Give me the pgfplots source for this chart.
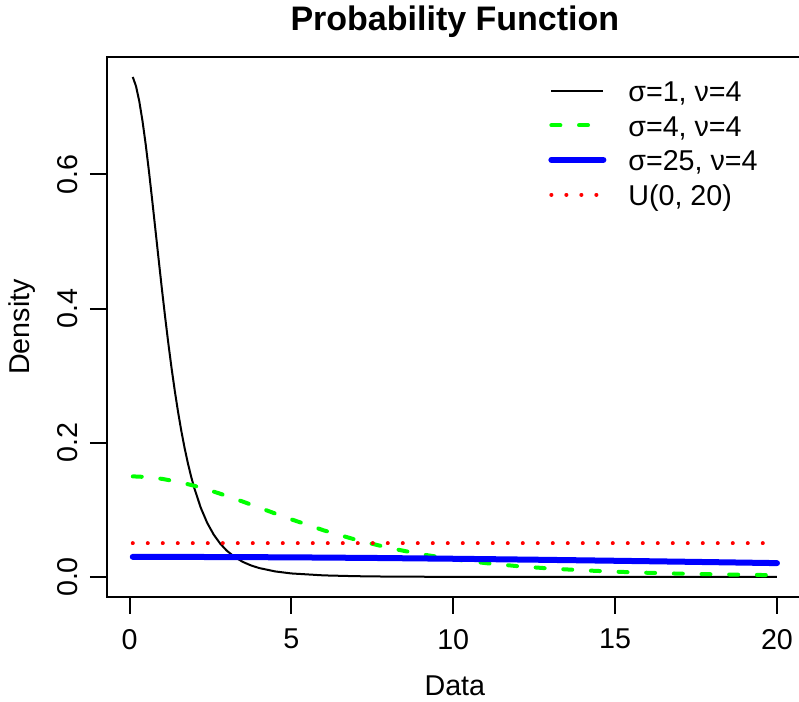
\documentclass[border=0pt]{standalone}
\usepackage{pgfplots}
\pgfplotsset{compat=1.18}
\usepackage{fontspec}
\setmainfont{Liberation Sans}
\definecolor{rgreen}{RGB}{0,255,0}
\definecolor{rblue}{RGB}{0,0,255}
\definecolor{rred}{RGB}{255,0,0}
\newcommand{\nf}{\fontsize{21.5}{25}\selectfont}
\begin{document}
\begin{tikzpicture}
\begin{axis}[
  at={(80.25pt,78.75pt)}, anchor=south west,
  scale only axis, width=521.8pt, height=405pt,
  xmin=-0.696, xmax=20.796, ymin=-0.0298, ymax=0.7751,
  axis line style={line width=1.5pt},
  every tick/.style={line width=1.5pt, black},
  tick align=outside, major tick length=12.75pt,
  xtick pos=bottom, ytick pos=left,
  xtick={0,5,10,15,20}, xticklabels={0,5,10,15,20},
  ytick={0,0.2,0.4,0.6}, yticklabels={0.0,0.2,0.4,0.6},
  xticklabel style={font=\nf, anchor=north, inner sep=0pt},
  yticklabel style={font=\nf, rotate=90, anchor=south, inner sep=0pt},
  xticklabel shift=11.25pt, yticklabel shift=9pt,
  xlabel={Data}, ylabel={Density},
  every axis x label/.style={at={(axis description cs:0.5,-0.1648)}, anchor=center, font=\nf},
  every axis y label/.style={at={(axis description cs:-0.1222,0.5)}, anchor=center, rotate=90, font=\nf},
  title={Probability Function},
  every axis title/.style={at={(axis description cs:0.5,1.0648)}, anchor=center, font=\bfseries\fontsize{25.5}{30}\selectfont},
  legend cell align=left,
  legend style={at={(rel axis cs:0.634,0.9563)}, anchor=north west, draw=none, fill=none,
    inner sep=0pt, column sep=16.5pt, row sep=6pt, font=\nf,
    nodes={inner sep=0pt, text height=15.5pt, text depth=4.5pt}},
  legend image code/.code={\draw[#1] (0pt,2.7pt) -- (39pt,2.7pt);},
]
\addplot[black, line width=1.5pt] coordinates {
(0.1,0.7453) (0.2,0.7316) (0.3,0.7094) (0.4,0.6799) (0.5,0.6446) (0.6,0.6047)
(0.7,0.5618) (0.8,0.5175) (0.9,0.4730) (1.0,0.4293) (1.1,0.3874) (1.2,0.3477)
(1.3,0.3108) (1.4,0.2768) (1.5,0.2458) (1.6,0.2177) (1.7,0.1926) (1.8,0.1702)
(1.9,0.1502) (2.0,0.1326) (2.2,0.1033) (2.4,0.0806) (2.6,0.0632) (2.8,0.0498)
(3.0,0.0394) (3.25,0.0297) (3.5,0.0225) (3.75,0.0173) (4.0,0.0134) (4.5,0.0083)
(5,0.0053) (6,0.0024) (7,0.0012) (8,0.0006) (10,0.0002) (12,0.0001) (15,0.00003) (20,0.00001)};
\addlegendentry{σ=1, ν=4}
\addplot[rgreen, line width=3pt, line cap=round, dash pattern=on 6.75pt off 14pt] coordinates {
(0.1,0.1500) (0.5,0.1491) (1,0.1463) (1.5,0.1419) (2,0.1360) (2.5,0.1289) (3,0.1209)
(3.5,0.1124) (4,0.1035) (4.5,0.0946) (5,0.0859) (6,0.0695) (7,0.0554) (8,0.0435)
(9,0.0340) (10,0.0265) (11,0.0207) (12,0.0161) (13,0.0126) (14,0.0100) (15,0.0079)
(16,0.0063) (17,0.0050) (18,0.0041) (19,0.0033) (20,0.0027)};
\addlegendentry{σ=4, ν=4}
\addplot[rblue, line width=4.5pt, line cap=round] coordinates {
(0.1,0.0300) (2.5,0.0298) (5,0.0293) (7.5,0.0284) (10,0.0272) (12.5,0.0258)
(15,0.0242) (17.5,0.0225) (20,0.0207)};
\addlegendentry{σ=25, ν=4}
\addplot[rred, line width=3pt, line cap=round, dash pattern=on 0.01pt off 11.24pt] coordinates {
(0.1,0.05) (20,0.05)};
\addlegendentry{U(0, 20)}
\end{axis}
\pgfresetboundingbox
\path[use as bounding box] (0,0) rectangle (599.25pt,526.5pt);
\end{tikzpicture}
\end{document}
